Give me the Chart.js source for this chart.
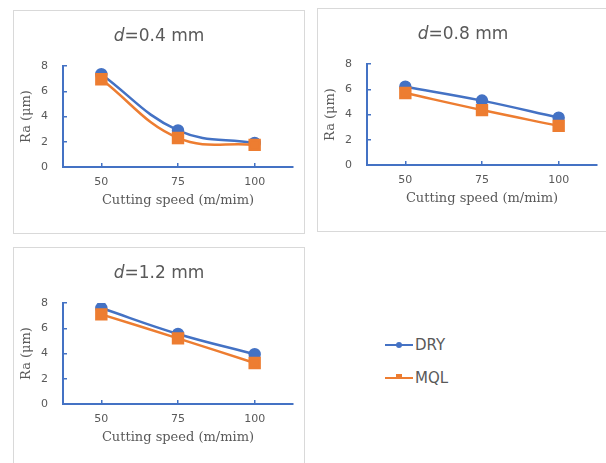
<!DOCTYPE html>
<html>
<head>
<meta charset="utf-8">
<script src="https://cdn.jsdelivr.net/npm/chart.js@4"></script>
<style>
body{margin:0;background:#fff;width:606px;height:463px;overflow:hidden;position:relative;font-family:"DejaVu Sans",sans-serif}
.panel{position:absolute;border:1px solid #d9d9d9;background:#fff;overflow:hidden}
.panel canvas{position:absolute;left:0;top:0}
.ttl{position:absolute;left:0;width:100%;top:14px;text-align:center;color:#595959;font-size:17px;line-height:20px}
.leg{position:absolute;left:385px;color:#595959;font-size:15px;line-height:18px}
.leg .ln{position:absolute;left:0;width:28px;height:2px;top:8px}
.leg .mk{position:absolute}
.leg span{position:absolute;left:30px;top:0}
</style>
</head>
<body>
<div class="panel" style="left:13px;top:10px;width:290px;height:222px">
  <canvas id="c1" width="290" height="222"></canvas>
  <div class="ttl"><i>d</i>=0.4 mm</div>
</div>
<div class="panel" style="left:317px;top:8px;width:295px;height:222px">
  <canvas id="c2" width="290" height="222"></canvas>
  <div class="ttl" style="width:290px"><i>d</i>=0.8 mm</div>
</div>
<div class="panel" style="left:13px;top:247px;width:290px;height:230px">
  <canvas id="c3" width="290" height="222"></canvas>
  <div class="ttl"><i>d</i>=1.2 mm</div>
</div>

<div class="leg" style="top:336px">
  <div class="ln" style="background:#4472C4"></div>
  <div class="mk" style="left:11px;top:6px;width:6px;height:6px;border-radius:3px;background:#4472C4"></div>
  <span>DRY</span>
</div>
<div class="leg" style="top:369px">
  <div class="ln" style="background:#ED7D31"></div>
  <div class="mk" style="left:11px;top:5px;width:6px;height:5px;background:#ED7D31"></div>
  <span>MQL</span>
</div>

<script>
'use strict';

const speeds = ['50', '75', '100'];

const dry04 = [7.35, 2.9, 1.9];
const mql04 = [6.95, 2.3, 1.75];

const dry08 = [6.2, 5.1, 3.75];
const mql08 = [5.7, 4.35, 3.1];

const dry12 = [7.6, 5.55, 3.95];
const mql12 = [7.1, 5.2, 3.25];

const blue = '#4472C4';
const orange = '#ED7D31';
const grey = '#595959';

const crearChart = (id, dry, mql) => {
    const ctx = document.getElementById(id).getContext('2d');
    return new Chart(ctx, {
        type: 'line',
        data: {
            labels: speeds,
            datasets: [
                {
                    label: 'DRY',
                    data: dry,
                    borderColor: blue,
                    backgroundColor: blue,
                    borderWidth: 2.5,
                    pointStyle: 'circle',
                    pointRadius: 5,
                    tension: 0.4,
                    order: 1
                },
                {
                    label: 'MQL',
                    data: mql,
                    borderColor: orange,
                    backgroundColor: orange,
                    borderWidth: 2.5,
                    pointStyle: 'rect',
                    pointRadius: 7,
                    tension: 0.4,
                    order: 0
                }
            ]
        },
        options: {
            responsive: false,
            animation: false,
            devicePixelRatio: 1,
            layout: {
                padding: { left: 0, top: 55, right: 11, bottom: 0 }
            },
            plugins: {
                legend: { display: false },
                tooltip: { enabled: false }
            },
            scales: {
                x: {
                    offset: true,
                    afterFit: scale => { scale.height = 66; },
                    grid: {
                        drawOnChartArea: false,
                        drawTicks: true,
                        tickLength: -4,
                        color: blue,
                        lineWidth: 1.5
                    },
                    border: { color: blue, width: 2 },
                    ticks: {
                        color: grey,
                        padding: 13,
                        font: { family: 'DejaVu Sans', size: 11 }
                    },
                    title: {
                        display: true,
                        text: 'Cutting speed (m/mim)',
                        color: grey,
                        font: { family: 'DejaVu Serif', size: 13 },
                        padding: { top: 0, bottom: 25 }
                    }
                },
                y: {
                    min: 0,
                    max: 8,
                    afterFit: scale => { scale.width = 49; },
                    grid: {
                        drawOnChartArea: false,
                        drawTicks: true,
                        tickLength: -4,
                        color: blue,
                        lineWidth: 1.5
                    },
                    border: { color: blue, width: 2 },
                    ticks: {
                        stepSize: 2,
                        color: grey,
                        padding: 19,
                        font: { family: 'DejaVu Sans', size: 11 }
                    },
                    title: {
                        display: true,
                        text: 'Ra (μm)',
                        color: grey,
                        font: { family: 'DejaVu Serif', size: 13 },
                        padding: { top: 5, bottom: 0 }
                    }
                }
            }
        }
    });
};

crearChart('c1', dry04, mql04);
crearChart('c2', dry08, mql08);
crearChart('c3', dry12, mql12);
</script>
</body>
</html>
